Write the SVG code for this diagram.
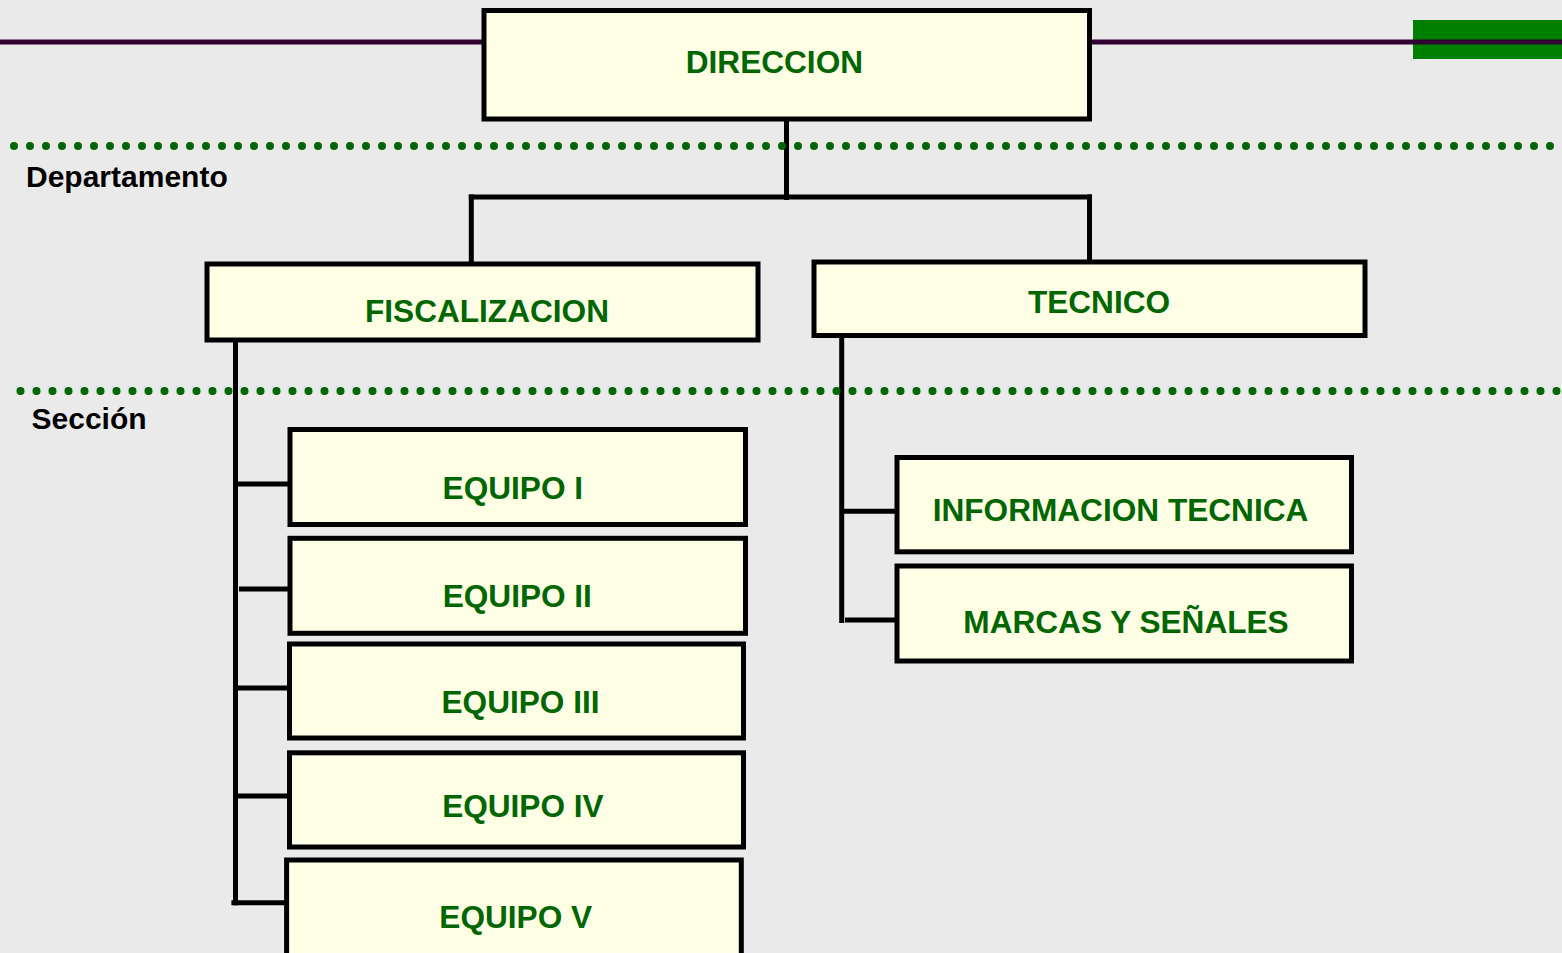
<svg xmlns="http://www.w3.org/2000/svg" width="1562" height="953" viewBox="0 0 1562 953">
<style>
.box{fill:#FFFFE5;stroke:#000;stroke-width:5}
.lbl{font-family:"Liberation Sans",Arial,sans-serif;font-weight:bold;font-size:31.6px;fill:#006600;text-anchor:middle}
.lvl{font-family:"Liberation Sans",Arial,sans-serif;font-weight:bold;font-size:30px;fill:#000}
.conn line{stroke:#000;stroke-width:5}
.dots{stroke:#006600;stroke-width:8;stroke-linecap:round;stroke-dasharray:0 16;fill:none}
</style>
<rect x="0" y="0" width="1562" height="953" fill="#EAEAEA"/>
<g id="banner">
<rect x="1413" y="20" width="149" height="39" fill="#008000"/>
<line x1="0" y1="42" x2="484" y2="42" stroke="#330033" stroke-width="5"/>
<line x1="1089" y1="42" x2="1562" y2="42" stroke="#330033" stroke-width="5"/>
</g>
<g id="connectors" class="conn">
<line x1="786.5" y1="121" x2="786.5" y2="200"/>
<line x1="468.8" y1="197" x2="1092" y2="197"/>
<line x1="471.3" y1="194.5" x2="471.3" y2="262"/>
<line x1="1089.5" y1="194.5" x2="1089.5" y2="260"/>
<line x1="235.5" y1="342" x2="235.5" y2="905.3"/>
<line x1="235.5" y1="484" x2="290" y2="484"/>
<line x1="239" y1="589" x2="294" y2="589"/>
<line x1="235.5" y1="688" x2="289.5" y2="688"/>
<line x1="235.5" y1="796" x2="289.5" y2="796"/>
<line x1="231.4" y1="902.8" x2="286.6" y2="902.8"/>
<line x1="841.7" y1="337" x2="841.7" y2="623"/>
<line x1="841.7" y1="511.3" x2="897" y2="511.3"/>
<line x1="845" y1="620" x2="900" y2="620"/>
</g>
<g id="levels">
<line class="dots" x1="14" y1="146" x2="1562" y2="146"/>
<line class="dots" x1="20.5" y1="391" x2="1562" y2="391"/>
<text class="lvl" x="26" y="187">Departamento</text>
<text class="lvl" x="31.5" y="428.7">Sección</text>
</g>
<g id="n-direccion"><rect class="box" x="484" y="10.5" width="605.5" height="108.5"/><text class="lbl" x="774.4" y="72.7">DIRECCION</text></g>
<g id="n-fiscalizacion"><rect class="box" x="207" y="264" width="551" height="76"/><text class="lbl" x="487" y="322" font-size="31">FISCALIZACION</text></g>
<g id="n-tecnico"><rect class="box" x="814" y="262" width="551" height="73.5"/><text class="lbl" x="1099" y="312.7">TECNICO</text></g>
<g id="n-equipo1"><rect class="box" x="290" y="429.5" width="455.5" height="95"/><text class="lbl" x="512.8" y="499.3">EQUIPO I</text></g>
<g id="n-equipo2"><rect class="box" x="290" y="538.3" width="455.5" height="95"/><text class="lbl" x="517.3" y="607.3">EQUIPO II</text></g>
<g id="n-equipo3"><rect class="box" x="289.5" y="644" width="454" height="94"/><text class="lbl" x="520.5" y="713.3">EQUIPO III</text></g>
<g id="n-equipo4"><rect class="box" x="289.5" y="752.8" width="454" height="94.2"/><text class="lbl" x="522.9" y="816.7">EQUIPO IV</text></g>
<g id="n-equipo5"><rect class="box" x="286.6" y="860" width="454.7" height="120"/><text class="lbl" x="515.7" y="928.3">EQUIPO V</text></g>
<g id="n-info"><rect class="box" x="897" y="457.5" width="454.5" height="94.3"/><text class="lbl" x="1120.5" y="520.7">INFORMACION TECNICA</text></g>
<g id="n-marcas"><rect class="box" x="897" y="566" width="454.5" height="95"/><text class="lbl" x="1126" y="633.3" font-size="31.2">MARCAS Y SEÑALES</text></g>
</svg>
